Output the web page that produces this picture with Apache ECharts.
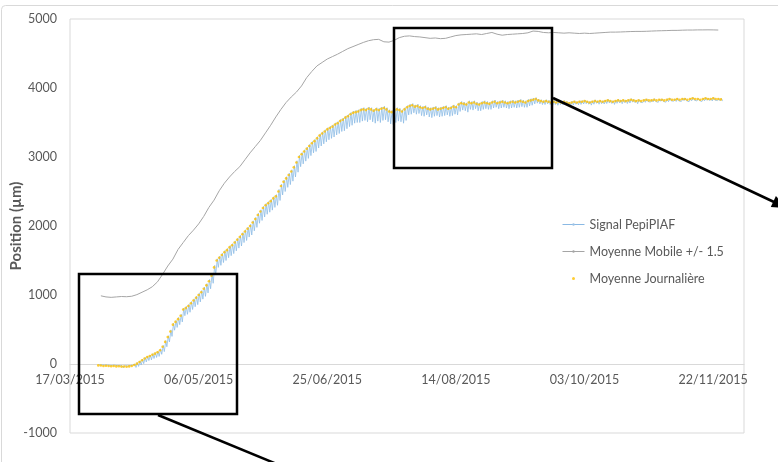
<!DOCTYPE html>
<html>
<head>
<meta charset="utf-8">
<script src="https://cdn.jsdelivr.net/npm/echarts@6/dist/echarts.min.js"></script>
<style>
  html, body { margin: 0; padding: 0; background: #fff; }
  #chart { width: 778px; height: 462px; }
</style>
</head>
<body>
<div id="chart"></div>
<script>
// day offsets are counted from 17/03/2015
const startDate = Date.UTC(2015, 2, 17);
const firstDay = 11;          // first daily value (28/03/2015)
const grayFirstDay = 12;      // moving average sampled every 2 days
const grayStep = 2;
const yTicks = [-1000, 0, 1000, 2000, 3000, 4000, 5000];

// Moyenne Journaliere (one value per day, µm)
const dailyMean = [
  -20,-22,-28,-25,-30,-32,-28,-35,-33,-38,-36,-40,-35,-30,
  -15,5,30,55,80,100,115,135,150,170,200,250,
  320,390,470,570,610,650,700,790,810,
  840,880,920,960,1000,1040,1090,1140,1200,1280,1400,1500,
  1540,1580,1620,1650,1690,1720,1760,1800,1840,1880,1920,1960,2000,
  2050,2100,2160,2210,2260,2300,2330,2360,2400,2430,2500,2580,2640,2690,2740,2790,2850,2920,3000,
  3040,3080,3120,3160,3200,3230,3270,3310,3340,3370,3400,3420,3440,3470,3490,3520,3540,3570,3590,3620,3640,3650,3660,3680,3690,3680,
  3700,3690,3670,3690,3680,3700,3710,3690,3660,3650,3670,3690,3680,3660,3690,
  3720,3740,3750,3730,3740,3720,3710,3720,3700,3690,3700,3710,3690,3700,3710,3720,3700,3710,3730,3720,3760,3780,3770,3760,3790,3780,3790,3770,3760,3780,
  3790,3780,3770,3790,3800,3780,3790,3800,3790,3780,3790,3800,3790,3800,3810,3800,3790,3810,3820,3830,3840,3820,3810,3800,3810,3800,3790,3800,3790,3800,
  3790,3800,3790,3780,3790,3800,3790,3800,3800,3810,3800,3790,3800,3810,3800,3810,3800,3810,3820,3810,3800,3810,3820,3810,3820,3810,3820,3830,3820,3810,
  3820,3810,3820,3830,3820,3820,3830,3820,3830,3830,3820,3830,3840,3830,3830,3840,3830,3840,3840,3830,3840,3850,3840,3840,3830,3840,3850,3840,3840,3850,3840,3840,3835
];

// Signal PepiPIAF: daily maximum (night swelling) and minimum (day shrinking)
const signalHigh = [
  -10,-12,-15,-14,-18,-20,-16,-22,-22,-26,-24,-28,-24,-18,
  0,20,45,70,95,115,130,150,165,185,220,270,
  340,410,495,590,630,675,720,810,835,
  865,905,945,985,1025,1065,1115,1165,1225,1310,1430,1525,
  1565,1605,1645,1675,1715,1745,1785,1825,1865,1905,1945,1985,2025,
  2075,2125,2185,2235,2285,2325,2355,2385,2425,2455,2530,2605,2665,2715,2765,2815,2875,2945,3025,
  3065,3105,3145,3185,3225,3255,3295,3335,3365,3395,3425,3445,3465,3495,3515,3545,3565,3595,3615,3645,3665,3675,3685,3705,3715,3705,
  3725,3715,3695,3715,3705,3725,3735,3715,3685,3675,3695,3715,3705,3685,3715,
  3745,3765,3775,3755,3765,3745,3735,3745,3725,3715,3725,3735,3715,3725,3735,3745,3725,3735,3755,3745,3785,3805,3795,3785,3815,3805,3815,3795,3785,3805,
  3815,3805,3795,3815,3825,3805,3815,3825,3815,3805,3815,3825,3815,3825,3835,3825,3815,3835,3845,3855,3860,3840,3830,3820,3830,3820,3810,3820,3810,3820,
  3805,3818,3805,3795,3808,3815,3802,3815,3818,3825,3812,3805,3815,3828,3815,3822,3815,3825,3835,3822,3815,3825,3838,3825,3832,3825,3835,3845,3832,3825,
  3832,3822,3835,3842,3830,3832,3845,3832,3840,3842,3832,3845,3852,3840,3842,3852,3840,3852,3855,3842,3850,3862,3852,3850,3842,3852,3860,3852,3850,3862,3852,3850,3847
];
const signalLow = [
  -35,-38,-42,-40,-45,-48,-44,-50,-48,-55,-52,-56,-50,-45,
  -50,-35,-15,5,30,50,60,80,95,110,140,180,
  250,320,400,490,530,570,610,700,720,
  750,790,830,860,900,940,980,1030,1090,1170,1290,1400,
  1430,1470,1500,1540,1570,1600,1640,1680,1710,1760,1790,1840,1870,
  1930,1980,2040,2080,2130,2170,2200,2230,2270,2300,2370,2450,2500,2560,2600,2650,2710,2780,2860,
  2900,2940,2980,3020,3060,3080,3130,3160,3190,3220,3250,3270,3290,3320,3340,3370,3380,3410,3440,3460,3490,3500,3500,3520,3530,3510,
  3540,3510,3490,3520,3500,3530,3540,3510,3480,3470,3500,3520,3510,3490,3530,
  3610,3620,3640,3620,3630,3600,3590,3610,3580,3570,3590,3600,3580,3590,3600,3610,3590,3600,3620,3610,3660,3680,3670,3650,3690,3680,3700,3670,3670,3690,
  3700,3690,3690,3710,3720,3700,3710,3720,3710,3700,3710,3720,3710,3720,3730,3720,3720,3740,3750,3770,3780,3770,3760,3760,3770,3760,3750,3760,3750,3760,
  3755,3762,3755,3748,3752,3765,3758,3762,3768,3772,3765,3752,3765,3778,3765,3772,3768,3775,3782,3775,3762,3778,3785,3772,3788,3775,3782,3795,3788,3772,
  3795,3788,3792,3805,3795,3798,3805,3792,3808,3805,3795,3802,3815,3808,3805,3812,3805,3818,3815,3802,3815,3825,3812,3818,3805,3815,3822,3818,3812,3825,3818,3815,3810
];

// Moyenne Mobile +/- 1.5 (every 2 days, µm)
const movingAvg = [
  988,972,966,972,978,975,982,1005,1040,1075,
  1120,1190,1300,1420,1520,1660,1760,1860,1940,2030,
  2140,2270,2375,2510,2620,2710,2790,2860,2960,3060,
  3150,3240,3350,3460,3580,3690,3790,3870,3940,4030,
  4150,4240,4320,4370,4420,4455,4490,4530,4570,4600,
  4630,4660,4685,4700,4705,4670,4665,4690,4730,4750,
  4755,4745,4740,4730,4720,4725,4715,4720,4740,4760,
  4770,4775,4780,4785,4775,4790,4805,4780,4765,4775,
  4780,4785,4790,4800,4825,4820,4805,4800,4805,4800,
  4795,4800,4795,4790,4795,4790,4795,4800,4805,4810,
  4810,4812,4815,4818,4820,4820,4822,4825,4828,4830,
  4832,4835,4835,4838,4840,4840,4842,4842,4843,4842,
  4840
];

const meanData = dailyMean.map((v, i) => [firstDay + i, v]);
const signalData = [];
signalHigh.forEach((h, i) => {
  signalData.push([firstDay + i + 0.25, h]);
  signalData.push([firstDay + i + 0.65, signalLow[i]]);
});
const grayData = movingAvg.map((v, i) => [grayFirstDay + i * grayStep, v]);

function fmtDate(v) {
  const d = new Date(startDate + v * 86400000);
  const dd = String(d.getUTCDate()).padStart(2, "0");
  const mm = String(d.getUTCMonth() + 1).padStart(2, "0");
  return dd + "/" + mm + "/" + d.getUTCFullYear();
}

const txt = "#595959";
const font = "Lato";
// the date axis crosses the value axis at 0 (grid is 414px high for 6000 µm)
const gridTop = 19, gridBottom = 29, gridH = 462 - gridTop - gridBottom;
const zeroOffset = -gridH * (0 - yTicks[0]) / (yTicks[yTicks.length - 1] - yTicks[0]);

var myChart = echarts.init(document.getElementById("chart"));
myChart.setOption({
  animation: false,
  textStyle: { fontFamily: font },
  grid: {
    left: 70, right: 34, top: gridTop, bottom: gridBottom,
    outerBoundsMode: "none",
    show: true, borderColor: "#d9d9d9", borderWidth: 1
  },
  legend: {
    orient: "vertical",
    left: 557,
    top: 213,
    itemWidth: 22,
    itemHeight: 3,
    itemGap: 14,
    itemTextGap: 3,
    lineStyle: { width: 1 },
    textStyle: { color: txt, fontSize: 12.5, fontFamily: font },
    data: [
      { name: "Signal PepiPIAF" },
      { name: "Moyenne Mobile +/- 1.5" },
      { name: "Moyenne Journalière", icon: "circle" }
    ]
  },
  xAxis: {
    type: "value",
    min: 0,
    max: 262,
    interval: 50,
    offset: zeroOffset,
    axisLine: { onZero: false, lineStyle: { color: "#d9d9d9", width: 1 } },
    axisTick: { show: false },
    splitLine: { show: false },
    axisLabel: {
      color: txt, fontSize: 12.5, margin: 9, fontFamily: font,
      formatter: v => (v % 50 === 0 ? fmtDate(v) : "")
    }
  },
  yAxis: {
    type: "value",
    min: yTicks[0],
    max: yTicks[yTicks.length - 1],
    interval: 1000,
    name: "Position (µm)",
    nameLocation: "middle",
    nameGap: 46,
    nameMoveOverlap: false,
    nameTextStyle: { color: txt, fontSize: 15, fontWeight: "bold", fontFamily: font },
    axisLine: { show: false },
    axisTick: { show: false },
    splitLine: { show: false },
    axisLabel: { color: txt, fontSize: 12.5, margin: 13, fontFamily: font, formatter: v => String(v) }
  },
  series: [
    {
      name: "Signal PepiPIAF",
      type: "line",
      symbol: "none",
      data: signalData,
      lineStyle: { color: "#8ab9e4", width: 0.75 },
      itemStyle: { color: "#9dc3e6" },
      z: 2
    },
    {
      name: "Moyenne Mobile +/- 1.5",
      type: "line",
      symbol: "none",
      data: grayData,
      lineStyle: { color: "#a5a5a5", width: 1 },
      itemStyle: { color: "#a5a5a5" },
      z: 2
    },
    {
      name: "Moyenne Journalière",
      type: "scatter",
      symbol: "circle",
      symbolSize: 2.6,
      data: meanData,
      itemStyle: { color: "#ffc000" },
      z: 3
    }
  ],
  graphic: [
    { type: "rect", shape: { x: 1.5, y: 5.5, width: 820, height: 520, r: 4 },
      style: { fill: "none", stroke: "#d9d9d9", lineWidth: 1 }, z: -1 },
    { type: "rect", shape: { x: 79, y: 274, width: 158, height: 140 },
      style: { fill: "none", stroke: "#000", lineWidth: 2.5 }, z: 10 },
    { type: "rect", shape: { x: 394, y: 28, width: 158, height: 140 },
      style: { fill: "none", stroke: "#000", lineWidth: 2.5 }, z: 10 },
    { type: "line", shape: { x1: 553, y1: 98, x2: 774, y2: 202 },
      style: { stroke: "#000", lineWidth: 2.5 }, z: 10 },
    { type: "polygon", shape: { points: [[788, 208.5], [770.8, 206.9], [775.9, 196.1]] },
      style: { fill: "#000" }, z: 10 },
    { type: "line", shape: { x1: 158, y1: 415, x2: 284, y2: 467 },
      style: { stroke: "#000", lineWidth: 2.5 }, z: 10 }
  ]
});

window.addEventListener("resize", () => {
  myChart.resize();
});
</script>
</body>
</html>
